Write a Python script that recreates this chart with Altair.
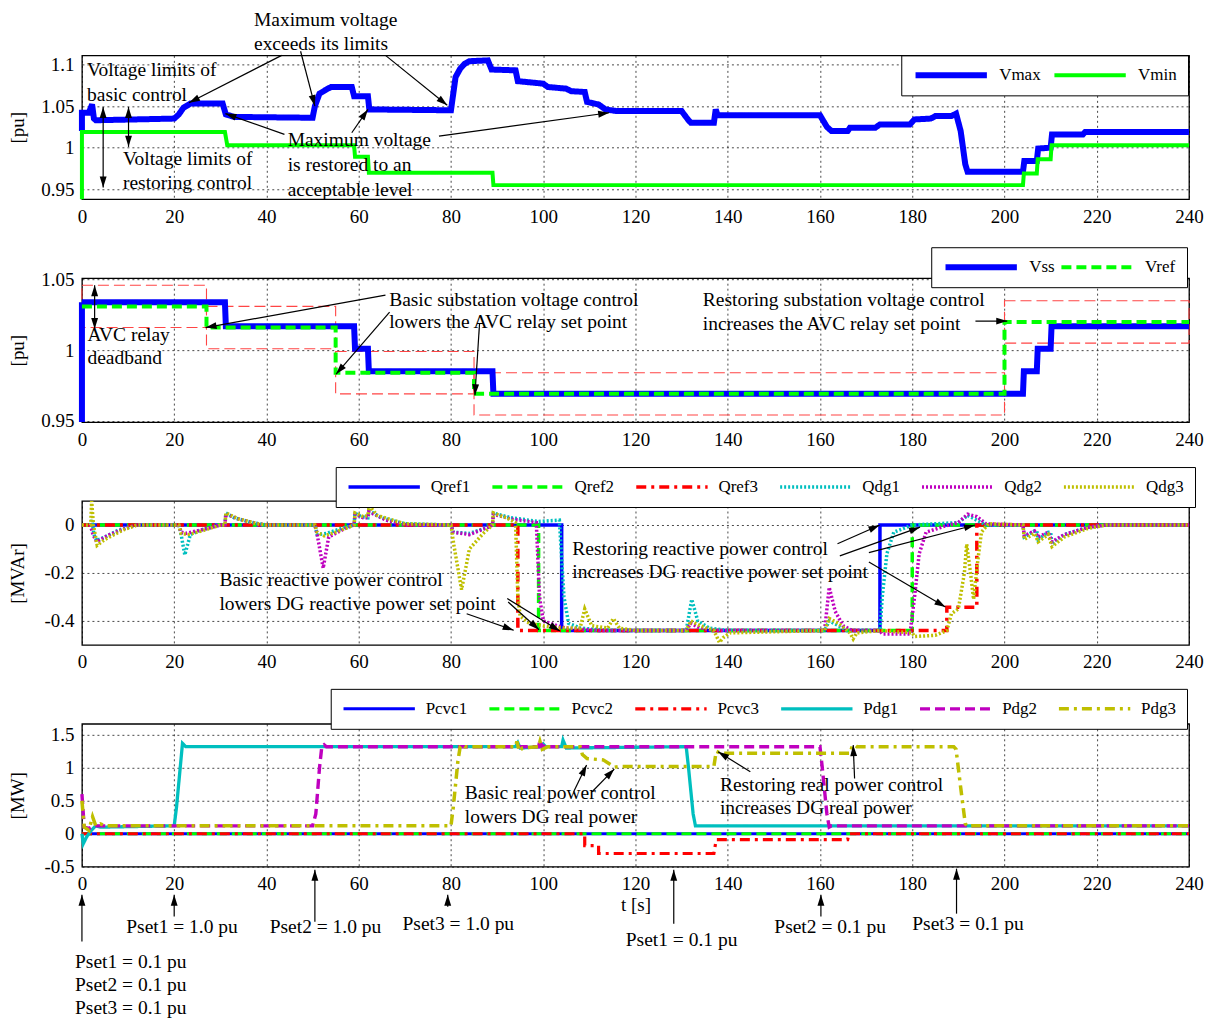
import math
import altair as alt
import pandas as pd

FONT = "Liberation Serif"
W = 1108
HS = [144, 144, 144, 143]
XD = [0, 240]
YD = [[0.938, 1.111], [0.949, 1.051], [-0.5, 0.1], [-0.5, 1.667]]
YT = [[0.95, 1, 1.05, 1.1], [0.95, 1, 1.05], [-0.4, -0.2, 0], [-0.5, 0, 0.5, 1, 1.5]]
YTITLE = ["[pu]", "[pu]", "[MVAr]", "[MW]"]

# ---------------- panel 1: Vmax / Vmin ----------------
p1_names = ["Vmax", "Vmin"]
p1_colors = ["#0000ff", "#00ff00"]
p1_widths = [6, 4]
p1_dash = [[1, 0], [1, 0]]
vmax_t = [0, 0, 1.5, 2.2, 2.6, 3, 20, 21, 22, 23.5, 30.5, 31.2, 33, 50, 50.5, 51.5, 53, 54, 58.5, 59, 62, 62.3,
          80, 81, 82, 83, 84, 88, 88.8, 94, 94.5, 100, 101, 105, 106, 109, 109.5, 112, 113.5, 116, 130, 131.5,
          132, 137, 137.4, 137.8, 160, 161.5, 162.5, 166, 166.5, 172, 173, 179.5, 180.5, 184, 185, 188.5, 189.5,
          190.5, 191.5, 192, 204, 204.3, 207, 207.3, 210, 210.3, 217, 217.5, 240]
vmax_v = [1.020, 1.042, 1.042, 1.052, 1.035, 1.033, 1.035, 1.040, 1.048, 1.053, 1.053, 1.040, 1.037, 1.036, 1.050,
          1.065, 1.070, 1.073, 1.073, 1.062, 1.062, 1.046, 1.045, 1.085, 1.095, 1.101, 1.104, 1.105, 1.094, 1.093,
          1.080, 1.077, 1.073, 1.071, 1.068, 1.067, 1.055, 1.052, 1.046, 1.044, 1.044, 1.033, 1.030, 1.030, 1.046,
          1.039, 1.039, 1.025, 1.020, 1.020, 1.024, 1.024, 1.028, 1.028, 1.034, 1.035, 1.038, 1.038, 1.041,
          1.020, 0.980, 0.971, 0.971, 0.984, 0.984, 0.999, 1.000, 1.016, 1.016, 1.019, 1.019]
vmin_t = [0, 0, 31, 31.5, 59, 59.2, 62, 62.2, 89, 89.2, 204, 204.2, 207, 207.2, 210, 210.2, 240]
vmin_v = [0.938, 1.019, 1.019, 1.003, 1.003, 0.989, 0.989, 0.970, 0.970, 0.955, 0.955, 0.969, 0.969, 0.986,
          0.986, 1.003, 1.003]

p1_text = ["Maximum voltage", "exceeds its limits", "Voltage limits of", "basic control", "Voltage limits of",
           "restoring control", "Maximum voltage", "is restored to an", "acceptable level"]
p1_text_t = [37.3, 37.3, 1.1, 1.1, 8.9, 8.9, 44.6, 44.6, 44.6]
p1_text_v = [1.1535, 1.1245, 1.093, 1.063, 0.987, 0.958, 1.009, 0.979, 0.949]
p1_arrows = [(43.3, 1.111, 23.2, 1.054, 0), (47.4, 1.116, 50.5, 1.050, 0), (65.8, 1.111, 79.2, 1.051, 0),
             (4.6, 0.952, 4.6, 1.049, 1), (10.1, 1.001, 10.1, 1.049, 1), (43.9, 1.016, 31.1, 1.041, 0),
             (58.5, 1.018, 62.0, 1.046, 0), (77.4, 1.014, 114.3, 1.042, 0)]

# ---------------- panel 2: Vss / Vref ----------------
p2_names = ["Vss", "Vref"]
p2_colors = ["#0000ff", "#00ff00"]
p2_widths = [6, 4]
p2_dash = [[1, 0], [10, 5]]
vss_t = [0, 0, 31, 31.2, 59, 59.2, 62, 62.2, 89, 89.2, 204, 204.2, 207, 207.2, 210, 210.2, 240]
vss_v = [0.949, 1.034, 1.034, 1.017, 1.017, 1.001, 1.001, 0.985, 0.985, 0.969, 0.969, 0.985, 0.985, 1.001,
         1.001, 1.017, 1.017]
vref_t = [0, 27, 27, 55, 55, 85, 85, 200, 200, 240]
vref_v = [1.031, 1.031, 1.016, 1.016, 0.984, 0.984, 0.969, 0.969, 1.020, 1.020]
db_t0 = [0, 27, 55, 85, 200]
db_t1 = [27, 55, 85, 200, 240]
db_lo = [1.016, 1.001, 0.969, 0.954, 1.005]
db_hi = [1.046, 1.031, 0.999, 0.984, 1.035]

p2_text = ["AVC relay", "deadband", "Basic substation voltage control", "lowers the AVC relay set point",
           "Restoring substation voltage control", "increases the AVC relay set point"]
p2_text_t = [1.2, 1.2, 66.6, 66.6, 134.6, 134.6]
p2_text_v = [1.0106, 0.9944, 1.0354, 1.0198, 1.0354, 1.0184]
p2_arrows = [(2.75, 1.015, 2.75, 1.046, 1), (65.8, 1.039, 26.8, 1.016, 0), (66.7, 1.027, 55.1, 0.983, 0),
             (86.2, 1.019, 85.2, 0.968, 0), (193.7, 1.0206, 200.6, 1.0206, 0)]

# ---------------- panel 3: reactive power ----------------
p3_names = ["Qref1", "Qref2", "Qref3", "Qdg1", "Qdg2", "Qdg3"]
p3_colors = ["#0000ff", "#00ff00", "#ff0000", "#00bfbf", "#bf00bf", "#bfbf00"]
p3_widths = [3.5, 3.5, 4, 1, 1, 1]
p3_dash = [[1, 0], [10, 5], [10, 5, 3, 5], [2, 2], [2, 2], [2, 2]]
qref1_t = [0, 104, 104, 173, 173, 240]
qref1_v = [0, 0, -0.44, -0.44, 0, 0]
qref2_t = [0, 99, 99, 180, 180, 240]
qref2_v = [0, 0, -0.44, -0.44, 0, 0]
qref3_t = [0, 94.5, 94.5, 187.5, 187.5, 194, 194, 240]
qref3_v = [0, 0, -0.44, -0.44, -0.343, -0.343, 0, 0]
qdg1_t = [0, 1.8, 2.2, 2.6, 3.2, 5, 8, 12, 21, 21.5, 22.3, 23.5, 26, 30, 31, 31.2, 33, 37, 40, 50.5, 51, 53, 57, 59,
          59.2, 60.5, 62, 62.2, 65, 70, 80, 80.5, 84, 88, 89, 89.2, 93, 99, 103.5, 104.5, 105.5, 108, 115, 131,
          132.2, 133.5, 136, 140, 161, 162, 164, 166, 173, 173.5, 174.5, 176, 180, 190, 192, 194, 196, 204, 204.3,
          206.5, 207, 207.3, 209.5, 210, 210.3, 213, 218, 222, 240]
qdg1_v = [0, 0, 0.02, -0.04, -0.065, -0.05, -0.02, 0, 0, -0.04, -0.125, -0.04, -0.02, 0, 0, 0.05, 0.03, 0.01, 0,
          0, -0.04, -0.035, -0.01, 0, 0.05, 0.035, 0.03, 0.06, 0.03, 0.005, 0, -0.03, -0.035, -0.01, 0, 0.05, 0.03,
          0.015, 0.02, -0.3, -0.41, -0.43, -0.44, -0.44, -0.31, -0.4, -0.43, -0.44, -0.44, -0.4, -0.42, -0.44,
          -0.44, -0.3, -0.12, -0.03, 0, 0.01, 0.04, 0.02, 0, 0, -0.05, -0.025, -0.025, -0.06, -0.03, -0.03, -0.08,
          -0.04, -0.01, 0, 0]
qdg2_t = [0, 1.8, 2.4, 3.2, 6, 10, 12, 21, 21.5, 22.5, 26, 30, 31, 31.2, 34, 38, 40, 50.5, 51, 52.3, 53.5, 57, 59,
          59.2, 61, 62, 62.2, 66, 70, 80, 80.5, 84, 88, 89, 89.2, 93, 98.5, 99.2, 100, 103, 105, 112, 131, 132,
          134, 137, 161, 162, 163.3, 165, 167, 173, 173.5, 179.5, 180.5, 181.5, 183, 187, 190, 192, 194, 196, 204,
          204.3, 206.5, 207.3, 209.5, 210.3, 213, 218, 222, 240]
qdg2_v = [0, 0, -0.04, -0.07, -0.04, -0.01, 0, 0, -0.03, -0.035, -0.02, 0, 0, 0.045, 0.025, 0.005, 0, 0, -0.04,
          -0.18, -0.05, -0.015, 0, 0.045, 0.03, 0.03, 0.055, 0.02, 0, 0, -0.03, -0.04, -0.01, 0, 0.045, 0.025,
          0.01, -0.3, -0.4, -0.42, -0.43, -0.44, -0.44, -0.41, -0.43, -0.44, -0.44, -0.26, -0.36, -0.42, -0.44,
          -0.44, -0.455, -0.455, -0.3, -0.12, -0.03, -0.005, 0.01, 0.045, 0.035, 0.005, 0, -0.045, -0.025, -0.05,
          -0.03, -0.07, -0.04, -0.01, 0, 0]
qdg3_t = [0, 1.9, 2.1, 2.5, 3.3, 5, 9, 12, 21, 21.5, 23, 26, 30, 31, 31.2, 34, 38, 40, 50.5, 51, 52.5, 55, 59,
          59.2, 61, 62, 62.3, 64, 70, 80, 80.6, 82.3, 84, 87, 89, 89.2, 92, 94, 94.5, 95, 97, 100, 104, 108, 109,
          110.5, 114, 115.2, 116.5, 120, 131, 132, 134, 137, 138.2, 139, 140.5, 161, 162, 164, 166.5, 167.2, 168,
          173, 180, 180.5, 185, 187.5, 188.5, 190, 191.3, 191.8, 192.5, 193.3, 194.2, 195, 196.5, 204, 204.3,
          206.5, 207.3, 209.5, 210.3, 213, 218, 222, 240]
qdg3_v = [0, 0, 0.1, 0, -0.085, -0.06, -0.02, 0, 0, -0.035, -0.04, -0.025, 0, 0, 0.05, 0.025, 0.005, 0, 0,
          -0.03, -0.045, -0.03, 0, 0.05, 0.035, 0.04, 0.08, 0.04, 0.005, 0, -0.08, -0.27, -0.1, -0.035, 0, 0.05,
          0.03, 0.01, -0.3, -0.38, -0.41, -0.42, -0.43, -0.43, -0.35, -0.42, -0.43, -0.39, -0.43, -0.44, -0.44,
          -0.4, -0.42, -0.44, -0.49, -0.47, -0.45, -0.44, -0.39, -0.41, -0.45, -0.475, -0.45, -0.44, -0.45,
          -0.465, -0.46, -0.44, -0.37, -0.35, -0.2, -0.08, -0.18, -0.31, -0.15, -0.03, 0.005, 0, -0.06, -0.035,
          -0.07, -0.04, -0.09, -0.05, -0.015, 0, 0]

p3_text = ["Basic reactive power control", "lowers DG reactive power set point",
           "Restoring reactive power control", "increases DG reactive power set point"]
p3_text_t = [29.8, 29.8, 106.3, 106.3]
p3_text_v = [-0.230, -0.328, -0.099, -0.196]
p3_arrows = [(83.4, -0.37, 93.6, -0.439, 0), (92.4, -0.321, 99.1, -0.437, 0), (92.2, -0.307, 103.6, -0.442, 0),
             (163.8, -0.078, 172.9, -0.001, 0), (164.3, -0.129, 181.7, -0.009, 0), (170.6, -0.115, 193.6, 0.0, 0),
             (170.6, -0.154, 187.2, -0.342, 0)]

# ---------------- panel 4: real power ----------------
p4_names = ["Pcvc1", "Pcvc2", "Pcvc3", "Pdg1", "Pdg2", "Pdg3"]
p4_colors = ["#0000ff", "#00ff00", "#ff0000", "#00bfbf", "#bf00bf", "#bfbf00"]
p4_widths = [3, 3.5, 3.5, 3, 4, 4]
p4_dash = [[1, 0], [10, 5], [10, 5, 3, 5], [1, 0], [10, 5], [10, 5, 3, 5]]
pcvc1_t = [0, 240]
pcvc1_v = [0, 0]
pcvc2_t = [0, 240]
pcvc2_v = [0, 0]
pcvc3_t = [0, 109, 109, 112, 112, 137, 137.5, 166, 166.3, 240]
pcvc3_v = [0, 0, -0.18, -0.18, -0.3, -0.3, -0.09, -0.09, 0, 0]
pdg1_t = [0, 0.3, 1, 2, 3, 4, 20, 20.5, 21.3, 21.8, 22.5, 94, 94.5, 95, 99.5, 100, 100.5, 104, 104.3, 105, 131,
          131.5, 132.5, 133, 240]
pdg1_v = [0, -0.15, -0.05, 0.05, 0.12, 0.1, 0.12, 0.4, 1.0, 1.37, 1.32, 1.32, 1.38, 1.3, 1.32, 1.36, 1.32, 1.32,
          1.42, 1.3, 1.32, 1.0, 0.3, 0.12, 0.12]
pdg2_t = [0, 0.5, 1.5, 2.5, 50, 50.7, 51.5, 52, 52.5, 53, 99, 99.3, 99.8, 100.5, 101, 160, 160.5, 161.5, 162,
          162.5, 240]
pdg2_v = [0.6, 0.1, 0.08, 0.12, 0.12, 0.3, 1.0, 1.32, 1.35, 1.32, 1.32, 1.42, 1.3, 1.35, 1.32, 1.32, 1.0, 0.3,
          0.1, 0.12, 0.12]
pdg3_t = [0, 0.5, 1.5, 2.3, 3, 4, 5, 80, 80.5, 81.5, 82, 82.5, 83, 94, 94.3, 94.8, 95.5, 99, 99.3, 99.8, 101, 108,
          108.5, 109.5, 113, 115.5, 116.5, 137, 137.5, 138.5, 166.5, 167, 167.5, 168, 189, 189.5, 190.5, 191.5,
          192, 193, 240]
pdg3_v = [0.5, 0.1, 0.05, 0.26, 0.12, 0.15, 0.12, 0.12, 0.4, 1.1, 1.32, 1.35, 1.32, 1.32, 1.4, 1.25, 1.3, 1.32,
          1.4, 1.28, 1.32, 1.32, 1.2, 1.14, 1.12, 1.01, 1.02, 1.02, 1.25, 1.22, 1.22, 1.33, 1.35, 1.32, 1.32, 1.28,
          0.7, 0.15, 0.11, 0.12, 0.12]

p4_text = ["Basic real power control", "lowers DG real power", "Restoring real power control",
           "increases DG real power", "Pset1 = 0.1 pu", "Pset2 = 0.1 pu", "Pset3 = 0.1 pu", "Pset1 = 1.0 pu",
           "Pset2 = 1.0 pu", "Pset3 = 1.0 pu", "Pset1 = 0.1 pu", "Pset2 = 0.1 pu", "Pset3 = 0.1 pu"]
p4_text_t = [83.0, 83.0, 138.3, 138.3, -1.5, -1.5, -1.5, 9.6, 40.7, 69.5, 117.9, 150.1, 180.0]
p4_text_v = [0.611, 0.258, 0.738, 0.384, -1.94, -2.30, -2.65, -1.409, -1.409, -1.364, -1.606, -1.409, -1.364]
p4_arrows = [(106.6, 0.637, 109.4, 1.041, 0), (110.6, 0.637, 115.4, 0.98, 0), (144.9, 0.94, 137.9, 1.243, 0),
             (167.5, 0.838, 167.2, 1.344, 0), (0, -1.636, 0, -0.924, 0), (20, -1.257, 20, -0.924, 0),
             (50.5, -1.333, 50.5, -0.545, 0), (79.3, -1.106, 79.3, -0.924, 0), (128.3, -1.364, 128.3, -0.545, 0),
             (160.2, -1.257, 160.2, -0.924, 0), (189.6, -1.212, 189.6, -0.53, 0)]

# legend placement (relative to each plot area) and column padding
LEG_XY = [(820, 0), (850, -31), (254, -34), (249, -35)]
LEG_COLPAD = [10, 3, 20, 20]

ARROW_SHAPE = "M0,0L-0.5,1.6L0.5,1.6Z"


def series_frame(names, ts, vs):
    rows = []
    for n, tt, vv in zip(names, ts, vs):
        for i, (a, b) in enumerate(zip(tt, vv)):
            rows.append({"t": a, "v": b, "s": n, "i": i})
    return pd.DataFrame(rows)


def enc_xy(k):
    x = alt.X("t:Q", scale=alt.Scale(domain=XD, nice=False, zero=False),
              axis=alt.Axis(values=list(range(0, 241, 20)), grid=True, ticks=False, domain=False,
                            gridColor="black", gridDash=[2, 3], gridWidth=0.8, gridOpacity=0.9,
                            labelFont=FONT, labelFontSize=19, labelColor="black", labelPadding=8,
                            labelFlush=False, labelOverlap=False,
                            title="t [s]" if k == 3 else None, titleFont=FONT, titleFontSize=19,
                            titleFontWeight="normal", titleColor="black", titlePadding=2))
    y = alt.Y("v:Q", scale=alt.Scale(domain=YD[k], nice=False, zero=False),
              axis=alt.Axis(values=YT[k], grid=True, ticks=False, domain=False,
                            gridColor="black", gridDash=[2, 3], gridWidth=0.8, gridOpacity=0.9,
                            labelFont=FONT, labelFontSize=19, labelColor="black", labelPadding=8,
                            labelExpr="'' + datum.value", labelOverlap=False, labelFlush=False,
                            title=YTITLE[k], titleFont=FONT, titleFontSize=19, titleFontWeight="normal",
                            titleColor="black", titleX=-64, titleY=HS[k] / 2, titleAngle=270,
                            titleAlign="center", titleBaseline="middle"))
    return x, y


def panel(k, names, colors, widths, dashes, ts, vs, texts, text_t, text_v, arrows, extra=None):
    x, y = enc_xy(k)
    leg = alt.Legend(orient="none", legendX=LEG_XY[k][0], legendY=LEG_XY[k][1], direction="horizontal",
                     columns=len(names), title=None, strokeColor="black", fillColor="white", padding=11,
                     labelFont=FONT, labelFontSize=17, labelColor="black", labelOffset=9,
                     columnPadding=LEG_COLPAD[k], symbolType="stroke", symbolSize=5100, labelLimit=0,
                     clipHeight=18)
    df = series_frame(names, ts, vs)
    lines = alt.Chart(df).mark_line().encode(
        x=x, y=y,
        color=alt.Color("s:N", scale=alt.Scale(domain=names, range=colors), legend=leg),
        strokeDash=alt.StrokeDash("s:N", scale=alt.Scale(domain=names, range=dashes), legend=leg),
        strokeWidth=alt.StrokeWidth("s:N", scale=alt.Scale(domain=names, range=widths), legend=leg),
        order=alt.Order("i:Q"),
    )
    layers = []
    if extra is not None:
        layers.append(extra(x, y))
    layers.append(lines)

    tdf = pd.DataFrame({"t": text_t, "v": text_v, "label": texts})
    layers.append(alt.Chart(tdf).mark_text(align="left", baseline="middle", font=FONT, fontSize=19.5,
                                           color="black").encode(x=x, y=y, text="label:N"))

    sx = W / (XD[1] - XD[0])
    sy = HS[k] / (YD[k][1] - YD[k][0])
    adf = pd.DataFrame([{"t": a[0], "v": a[1], "t2": a[2], "v2": a[3]} for a in arrows])
    heads = []
    for t1, v1, t2, v2, dbl in arrows:
        dx = (t2 - t1) * sx
        dyu = (v2 - v1) * sy
        ang = math.degrees(math.atan2(dx, dyu)) % 360
        heads.append({"t": t2, "v": v2, "ang": ang})
        if dbl:
            heads.append({"t": t1, "v": v1, "ang": (ang + 180) % 360})
    hdf = pd.DataFrame(heads)
    layers.append(alt.Chart(adf).mark_rule(color="black", strokeWidth=1.2).encode(
        x=x, y=y, x2="t2:Q", y2="v2:Q"))
    layers.append(alt.Chart(hdf).mark_point(shape=ARROW_SHAPE, filled=True, color="black", opacity=1,
                                            size=190, strokeWidth=0).encode(
        x=x, y=y, angle=alt.Angle("ang:Q", scale=None)))
    return alt.layer(*layers).properties(width=W, height=HS[k])


def deadband(x, y):
    ddf = pd.DataFrame({"t": db_t0, "t2": db_t1, "v": db_lo, "v2": db_hi})
    return alt.Chart(ddf).mark_rect(fillOpacity=0, stroke="#ff4545", strokeWidth=1.1,
                                    strokeDash=[11, 5]).encode(x=x, y=y, x2="t2:Q", y2="v2:Q")


c1 = panel(0, p1_names, p1_colors, p1_widths, p1_dash, [vmax_t, vmin_t], [vmax_v, vmin_v],
           p1_text, p1_text_t, p1_text_v, p1_arrows)
c2 = panel(1, p2_names, p2_colors, p2_widths, p2_dash, [vss_t, vref_t], [vss_v, vref_v],
           p2_text, p2_text_t, p2_text_v, p2_arrows, extra=deadband)
c3 = panel(2, p3_names, p3_colors, p3_widths, p3_dash,
           [qref1_t, qref2_t, qref3_t, qdg1_t, qdg2_t, qdg3_t],
           [qref1_v, qref2_v, qref3_v, qdg1_v, qdg2_v, qdg3_v],
           p3_text, p3_text_t, p3_text_v, p3_arrows)
c4 = panel(3, p4_names, p4_colors, p4_widths, p4_dash,
           [pcvc1_t, pcvc2_t, pcvc3_t, pdg1_t, pdg2_t, pdg3_t],
           [pcvc1_v, pcvc2_v, pcvc3_v, pdg1_v, pdg2_v, pdg3_v],
           p4_text, p4_text_t, p4_text_v, p4_arrows)

chart = alt.vconcat(c1, c2, c3, c4, spacing=79, bounds="flush").resolve_scale(
    color="independent", strokeDash="independent", strokeWidth="independent"
).resolve_legend(
    color="independent", strokeDash="independent", strokeWidth="independent"
).properties(
    padding={"left": 0, "top": 0, "right": 0, "bottom": 0}
).configure(background="white").configure_view(stroke="black", strokeWidth=1.3)

chart.save("out.html", embed_options={"renderer": "svg", "actions": False})
